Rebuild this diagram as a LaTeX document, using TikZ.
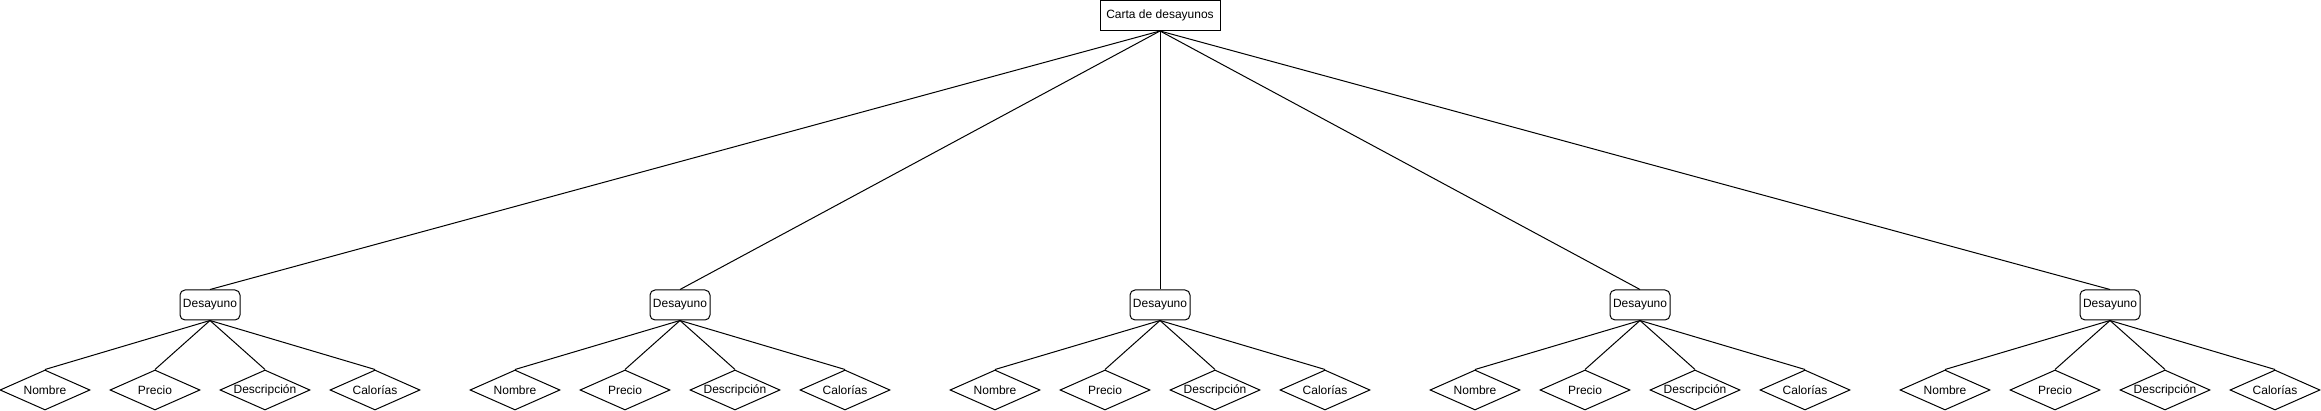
\documentclass[tikz,border=0pt]{standalone}
\usepackage{fontspec}
\setmainfont{Liberation Sans}
\usetikzlibrary{shapes.geometric}
\begin{document}
\begin{tikzpicture}[x=1pt,y=-1pt,
 every node/.style={font=\fontsize{12}{14}\selectfont},
 rootbox/.style={draw, line width=1pt, minimum width=120pt, minimum height=30pt, inner sep=0pt},
 mealbox/.style={draw, rounded corners=5pt, line width=1pt, minimum width=60pt, minimum height=30pt, inner sep=0pt},
 attr/.style={draw, diamond, line width=1pt, minimum width=90pt, minimum height=40pt, inner sep=0pt},
 link/.style={line width=1pt}]
\useasboundingbox (0,0) rectangle (2321,411);
\node[rootbox] (root) at (1160,15.5) {Carta de desayunos};
\foreach \i/\x in {1/210,2/680,3/1160,4/1640,5/2110}{
  \node[mealbox] (m\i) at (\x,305) {Desayuno};
  \draw[link] (root.south) -- (m\i.north);
  \foreach \j/\dx/\t in {1/-165/Nombre,2/-55/Precio,3/55/Descripción,4/165/Calorías}{
    \pgfmathsetmacro\ax{\x+\dx}
    \node[attr] (a\i\j) at (\ax,390) {\makebox[0pt]{\t}};
    \draw[link] (m\i.south) -- (a\i\j.north);
  }
}
\end{tikzpicture}
\end{document}
